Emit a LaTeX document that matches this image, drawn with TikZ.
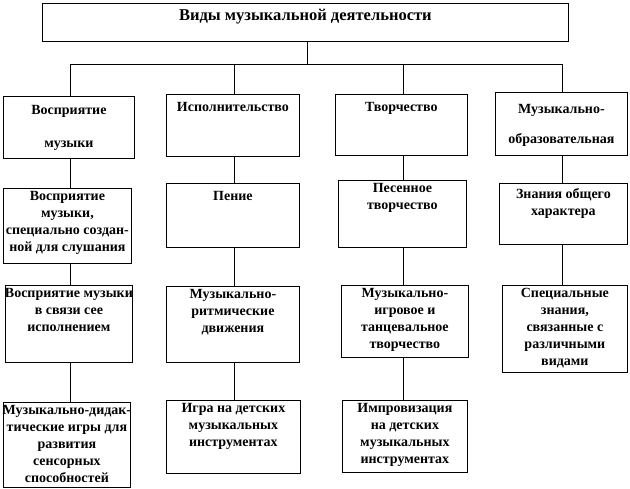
\documentclass[tikz,border=0pt]{standalone}
\usepackage{fontspec}
\setmainfont{Liberation Serif}
\begin{document}
\begin{tikzpicture}[x=1pt,y=-1pt,
  box/.style={draw=black, line width=0.8pt, fill=white, inner sep=0pt},
  lab/.style={anchor=north, inner sep=0pt, align=center, font=\bfseries\fontsize{14}{17}\selectfont, yshift=-3pt},
  conn/.style={line width=0.8pt}]
\newcommand\bx[7][]{\node[box, anchor=north west, minimum width=#5pt-#3pt, minimum height=#6pt-#4pt, label={[lab,#1]north:{#7}}] (#2) at (#3,#4) {};}
\useasboundingbox[fill=white] (0,0) rectangle (630,489);
\bx[font=\bfseries\fontsize{16.5}{19}\selectfont,yshift=-3pt]{T}{42}{3}{568}{41}{Виды музыкальной деятельности}
\bx[yshift=-6pt]{A1}{3}{96}{134}{158}{Восприятие\\[16pt]музыки}
\bx[yshift=-5pt]{B1}{166}{94}{299}{156}{Исполнительство}
\bx[yshift=-5pt]{C1}{335}{94}{467}{155}{Творчество}
\bx[yshift=-9pt]{D1}{495}{92}{627}{155}{Музыкально-\\[13pt]образовательная}
\bx{A2}{3}{188}{131}{263}{Восприятие\\музыки,\\специально создан-\\ной для слушания}
\bx[yshift=-5pt]{B2}{166}{183}{299}{247}{Пение}
\bx{C2}{338}{180}{466}{247}{Песенное\\творчество}
\bx[yshift=-2pt]{D2}{499}{183}{627}{244}{Знания общего\\характера}
\bx{A3}{5}{285}{132}{362}{Восприятие музыки\\в связи сее\\исполнением}
\bx{B3}{166}{286}{299}{362}{Музыкально-\\ритмические\\движения}
\bx{C3}{341}{285}{468}{357}{Музыкально-\\игровое и\\танцевальное\\творчество}
\bx{D3}{502}{285}{627}{372}{Специальные\\знания,\\связанные с\\различными\\видами}
\bx{A4}{3}{402}{130}{487}{Музыкально-дидак-\\тические игры для\\развития\\сенсорных\\способностей}
\bx{B4}{166}{400}{300}{473}{Игра на детских\\музыкальных\\инструментах}
\bx{C4}{342}{400}{467}{472}{Импровизация\\на детских\\музыкальных\\инструментах}
\coordinate (cT) at (307,0);
\coordinate (cA) at (70.5,0);
\coordinate (cB) at (234,0);
\coordinate (cC) at (403,0);
\coordinate (cD) at (562,0);
\coordinate (bus) at (0,64);
\draw[conn] (T.south -| cT) -- (cT |- bus);
\draw[conn] (cA |- bus) -- (cD |- bus);
\draw[conn] (cA |- bus) -- (A1.north -| cA);
\draw[conn] (cB |- bus) -- (B1.north -| cB);
\draw[conn] (cC |- bus) -- (C1.north -| cC);
\draw[conn] (cD |- bus) -- (D1.north -| cD);
\draw[conn] (A1.south -| cA) -- (A2.north -| cA);
\draw[conn] (B1.south -| cB) -- (B2.north -| cB);
\draw[conn] (C1.south -| cC) -- (C2.north -| cC);
\draw[conn] (D1.south -| cD) -- (D2.north -| cD);
\draw[conn] (A2.south -| cA) -- (A3.north -| cA);
\draw[conn] (B2.south -| cB) -- (B3.north -| cB);
\draw[conn] (C2.south -| cC) -- (C3.north -| cC);
\draw[conn] (D2.south -| cD) -- (D3.north -| cD);
\draw[conn] (A3.south -| cA) -- (A4.north -| cA);
\draw[conn] (B3.south -| cB) -- (B4.north -| cB);
\draw[conn] (C3.south -| cC) -- (C4.north -| cC);
\end{tikzpicture}
\end{document}
